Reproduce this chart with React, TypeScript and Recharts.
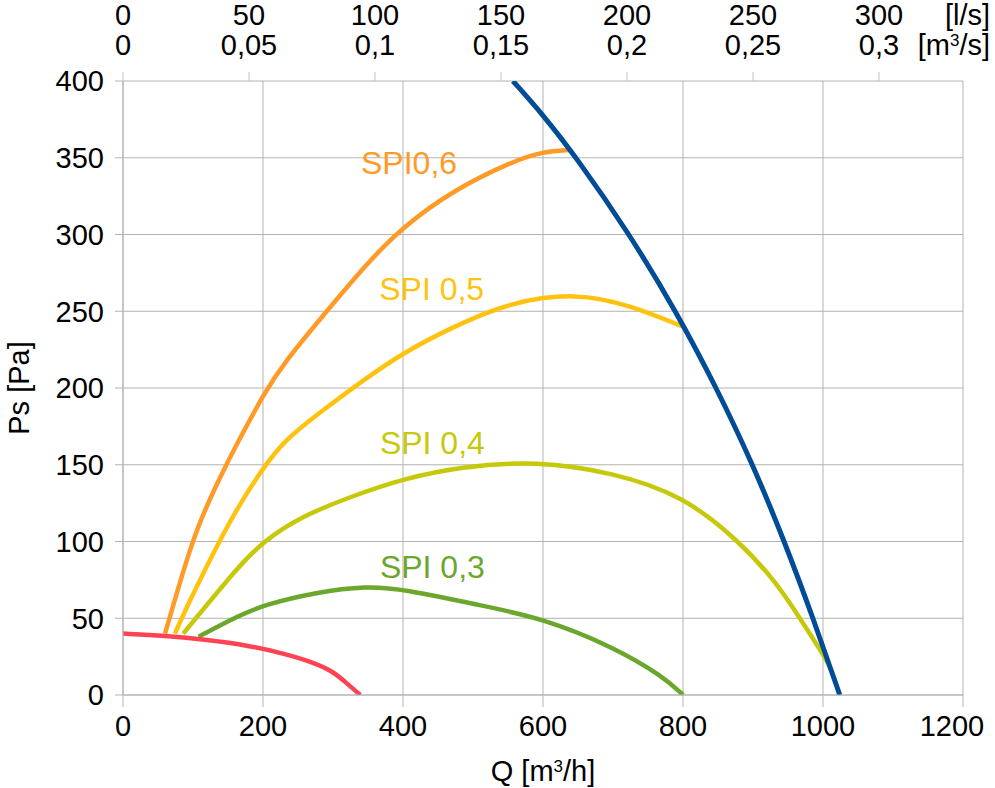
import React from "react";
import { ComposedChart, Line, XAxis, YAxis, CartesianGrid, ReferenceDot } from "recharts";

const FONT = '"Liberation Sans", Arial, sans-serif';
const GRID = "#b3b3b3";

/* ── Axes ───────────────────────────────────────────── */

const qTicks = [0, 200, 400, 600, 800, 1000, 1200]; // m³/h
const psTicks = [0, 50, 100, 150, 200, 250, 300, 350, 400]; // Pa
const lpsTicks = [0, 50, 100, 150, 200, 250, 300]; // l/s on the top scale
const m3sLabels = ["0", "0,05", "0,1", "0,15", "0,2", "0,25", "0,3"];
const topTicks = lpsTicks.map((v) => v * 3.6);

/* ── Curves (Q m³/h, Ps Pa) ─────────────────────────── */

const spi06 = [
  { q: 60, ps: 40 }, { q: 74, ps: 62 }, { q: 91, ps: 88 }, { q: 110, ps: 114 },
  { q: 148, ps: 151 }, { q: 181, ps: 179 }, { q: 200, ps: 195 }, { q: 229, ps: 216 },
  { q: 291, ps: 250 }, { q: 348, ps: 281 }, { q: 400, ps: 305 }, { q: 472, ps: 329 },
  { q: 558, ps: 348 }, { q: 600, ps: 354 }, { q: 639, ps: 355 },
];

const spi05 = [
  { q: 74, ps: 40 }, { q: 96, ps: 62 }, { q: 124, ps: 88 }, { q: 158, ps: 118 },
  { q: 200, ps: 148 }, { q: 231, ps: 166 }, { q: 281, ps: 184 }, { q: 340, ps: 204 },
  { q: 400, ps: 223 }, { q: 472, ps: 240 }, { q: 553, ps: 256 }, { q: 648, ps: 262 },
  { q: 724, ps: 254 }, { q: 800, ps: 240 },
];

const spi04 = [
  { q: 86, ps: 40 }, { q: 124, ps: 61 }, { q: 162, ps: 82 }, { q: 200, ps: 100 },
  { q: 253, ps: 116 }, { q: 324, ps: 129 }, { q: 400, ps: 141 }, { q: 486, ps: 149 },
  { q: 590, ps: 152.5 }, { q: 700, ps: 145 }, { q: 800, ps: 130 },
  { q: 881, ps: 100 }, { q: 934, ps: 73 }, { q: 967, ps: 50 }, { q: 1005, ps: 23 },
  { q: 1012, ps: 16 },
];

const spi03 = [
  { q: 108, ps: 38 }, { q: 167, ps: 52 }, { q: 200, ps: 58.5 }, { q: 277, ps: 67 },
  { q: 348, ps: 71 }, { q: 400, ps: 69 }, { q: 510, ps: 58.5 }, { q: 600, ps: 50 },
  { q: 700, ps: 31.5 }, { q: 772, ps: 12 }, { q: 800, ps: 0 },
];

const minCurve = [
  { q: 0, ps: 40 }, { q: 60, ps: 38.6 }, { q: 120, ps: 36 }, { q: 180, ps: 32.2 },
  { q: 230, ps: 27 }, { q: 270, ps: 21.5 }, { q: 300, ps: 15.5 }, { q: 320, ps: 7.5 },
  { q: 339, ps: 0 },
];

const maxCurve = [
  { q: 557, ps: 400 }, { q: 600, ps: 378 }, { q: 648, ps: 350 }, { q: 724, ps: 300 },
  { q: 790, ps: 250 }, { q: 848, ps: 200 }, { q: 900, ps: 150 }, { q: 945, ps: 100 },
  { q: 986, ps: 50 }, { q: 1024, ps: 0 },
];

/* ── Curve labels ───────────────────────────────────── */

const labelTexts = ["SPI0,6", "SPI 0,5", "SPI 0,4", "SPI 0,3"];
const labelQ = [340, 366, 367, 367];
const labelPs = [339.5, 257.5, 157, 76.5];

const C06 = "#FF9A26";
const C05 = "#FFC20E";
const C04 = "#C6C80A";
const C03 = "#6AA72C";
const CMIN = "#FF4352";
const CMAX = "#004C97";
const labelColors = [C06, C05, C04, C03];

/* ── Custom ticks and labels ────────────────────────── */

function BottomTick(props: any) {
  const { x, y, payload } = props;
  const shift = payload.value === 1200 ? -11 : 0;
  return (
    <text x={x + shift} y={y} dy="0.71em" textAnchor="middle" fontSize={29} fontFamily={FONT} fill="#000">
      {payload.value}
    </text>
  );
}

function TopTick(props: any) {
  const { x, y, index } = props;
  return (
    <text textAnchor="middle" fontSize={29} fontFamily={FONT} fill="#000">
      <tspan x={x} y={y - 43}>{lpsTicks[index]}</tspan>
      <tspan x={x} y={y - 13}>{m3sLabels[index]}</tspan>
    </text>
  );
}

function TopUnits(props: any) {
  const vb = props.viewBox;
  const x = vb.x + vb.width + 27;
  return (
    <g fontSize={29} fontFamily={FONT} fill="#000">
      <text x={x} y={vb.y + 25} textAnchor="end">[l/s]</text>
      <text x={x} y={vb.y + 55} textAnchor="end">
        [m<tspan fontSize={17} dy={-9}>3</tspan><tspan dy={9}>/s]</tspan>
      </text>
    </g>
  );
}

function QLabel(props: any) {
  const vb = props.viewBox;
  return (
    <text x={vb.x + vb.width / 2} y={vb.y + 86} textAnchor="middle" fontSize={29} fontFamily={FONT} fill="#000">
      Q [m<tspan fontSize={17} dy={-9}>3</tspan><tspan dy={9}>/h]</tspan>
    </text>
  );
}

function PsLabel(props: any) {
  const vb = props.viewBox;
  const x = vb.x + 29;
  const y = vb.y + vb.height / 2;
  return (
    <text x={x} y={y} transform={`rotate(-90, ${x}, ${y})`} textAnchor="middle" fontSize={29} fontFamily={FONT} fill="#000">
      Ps [Pa]
    </text>
  );
}

function CurveLabel(i: number) {
  return (p: any) => (
    <text x={p.cx} y={p.cy} textAnchor="start" fontSize={32} fontFamily={FONT} fill={labelColors[i]}>
      {labelTexts[i]}
    </text>
  );
}

/* ── Chart ──────────────────────────────────────────── */

const curves = [
  { data: spi03, color: C03, w: 4.5 },
  { data: spi04, color: C04, w: 4.5 },
  { data: spi05, color: C05, w: 4.5 },
  { data: spi06, color: C06, w: 4.5 },
  { data: maxCurve, color: CMAX, w: 5 },
  { data: minCurve, color: CMIN, w: 4.5 },
];

export default function App() {
  return (
    <div style={{ position: "absolute", left: 0, top: 0, background: "#fff" }}>
      <ComposedChart width={995} height={788} margin={{ top: 0, right: 32, bottom: 0, left: 0 }}>
        <CartesianGrid stroke={GRID} />
        <XAxis
          dataKey="q"
          type="number"
          domain={[0, 1200]}
          allowDataOverflow
          ticks={qTicks}
          interval={0}
          height={93}
          tickSize={12}
          tickMargin={8}
          stroke={GRID}
          tick={<BottomTick />}
          label={<QLabel />}
        />
        <XAxis
          xAxisId="top"
          dataKey="q"
          orientation="top"
          type="number"
          domain={[0, 1200]}
          allowDataOverflow
          ticks={topTicks}
          interval={0}
          height={81}
          tickSize={9}
          tickMargin={4}
          axisLine={false}
          tickLine={{ stroke: "#c4c4c4" }}
          tick={<TopTick />}
          label={<TopUnits />}
        />
        <YAxis
          type="number"
          domain={[0, 400]}
          allowDataOverflow
          ticks={psTicks}
          interval={0}
          width={123}
          tickSize={8}
          tickMargin={11}
          stroke={GRID}
          tick={{ fontSize: 29, fill: "#000", fontFamily: FONT }}
          label={<PsLabel />}
        />
        {/* the l/s scale shares the Q range; an unstroked copy of the limit curve ties it to the plot */}
        <Line
          xAxisId="top"
          data={maxCurve}
          dataKey="ps"
          stroke="none"
          dot={false}
          activeDot={false}
          legendType="none"
          isAnimationActive={false}
        />
        {curves.map((c, i) => (
          <Line
            key={i}
            data={c.data}
            dataKey="ps"
            type="basis"
            stroke={c.color}
            strokeWidth={c.w}
            dot={false}
            activeDot={false}
            isAnimationActive={false}
          />
        ))}
        {labelTexts.map((t, i) => (
          <ReferenceDot key={t} x={labelQ[i]} y={labelPs[i]} r={0} shape={CurveLabel(i)} />
        ))}
      </ComposedChart>
    </div>
  );
}
